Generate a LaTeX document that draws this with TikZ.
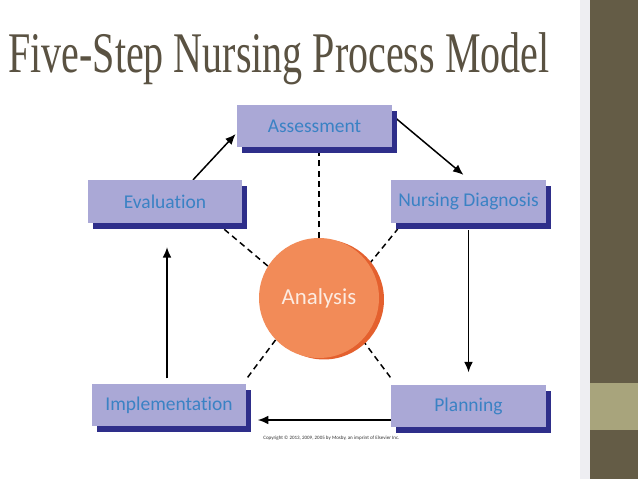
\documentclass[tikz,border=0pt]{standalone}
\usepackage{fontspec}
\setmainfont{Liberation Serif}
\newfontfamily\boxfont[Ligatures={NoCommon}]{Carlito}
\usetikzlibrary{positioning,arrows.meta,calc,shadows,backgrounds}

\definecolor{boxfill}{RGB}{170,168,214}
\definecolor{boxshade}{RGB}{46,46,138}
\definecolor{boxtext}{RGB}{58,130,196}
\definecolor{ballfill}{RGB}{242,139,88}
\definecolor{ballrim}{RGB}{228,96,46}
\definecolor{titlecol}{RGB}{90,82,66}
\definecolor{barcol}{RGB}{100,92,70}
\definecolor{bandcol}{RGB}{168,164,124}
\definecolor{stripcol}{RGB}{238,238,242}

\tikzset{
  stepbox/.style={fill=boxfill,minimum width=3.1cm,minimum height=0.85cm,text=boxtext,
    font=\boxfont\fontsize{11.1}{12}\selectfont,
    drop shadow={shadow xshift=0.1cm,shadow yshift=-0.12cm,fill=boxshade,opacity=1}},
  hub/.style={circle,fill=ballfill,minimum size=2.4cm,text={rgb,255:red,252;green,235;blue,225},
    font=\boxfont\fontsize{13}{15}\selectfont,
    drop shadow={shadow xshift=0.1cm,shadow yshift=-0.03cm,fill=ballrim,opacity=1}},
  flow/.style={->,line width=0.85pt},
  link/.style={line width=0.85pt,dash pattern=on 3.4pt off 2.4pt}
}

\begin{document}
\begin{tikzpicture}[x=0.02cm,y=-0.02cm,>={Latex[length=6pt,width=5pt]}]
  \useasboundingbox (0,0) rectangle (638,479);
  \begin{scope}[on background layer]
    \fill[white] (0,0) rectangle (638,479);
  \end{scope}
  \fill[stripcol] (580,0) rectangle (590,479);
  \fill[barcol] (590,0) rectangle (638,479);
  \fill[bandcol] (590,383) rectangle (638,430);

  \node[anchor=base west,inner sep=0,text=titlecol] (title) at (8,73)
    {\resizebox{308pt}{22.7pt}{Five-Step Nursing Process Model}};

  \foreach \nm/\x/\y/\txt in {assess/314.5/126/Assessment,eval/165/201.5/Evaluation,
      diag/468.5/201.5/Nursing Diagnosis,plan/468.5/406/Planning,impl/169/405/Implementation}
    \node[stepbox] (\nm) at (\x,\y) {\txt};
  \node[hub] (an) at (319,298) {Analysis};

  \node[anchor=base west,inner sep=0,text=black!80] (copy) at (263,439)
    {\resizebox{77.5pt}{!}{\boxfont Copyright \textcopyright{} 2013, 2009, 2005 by Mosby, an imprint of Elsevier Inc.}};

  \begin{scope}[on background layer]
    \draw[link] (an.north) -- (an.north |- assess.south);
    \draw[link] (an.148) -- ($(eval.south east)+(-20,5)$);
    \draw[link] (an.34) -- ($(diag.south west)+(7,6)$);
    \draw[link] (an.224) -- ($(impl.north east)+(0,-5)$);
    \draw[link] (an.316) -- ($(plan.north west)+(2,-4)$);
    \draw[flow] ($(eval.north)+(28,0)$) -- ($(assess.west)+(-1,8)$);
    \draw[flow] ($(assess.east)+(2,-9)$) -- ($(diag.north)+(-5,-5)$);
    \draw[flow] ($(diag.south)+(0,7)$) -- ($(plan.north)+(0,-12)$);
    \draw[flow] ($(plan.west)+(0,14)$) -- ($(impl.east)+(11,15)$);
    \draw[flow] ($(impl.north)+(-2,-5)$) -- ($(eval.south)+(2,24)$);
  \end{scope}
\end{tikzpicture}
\end{document}
